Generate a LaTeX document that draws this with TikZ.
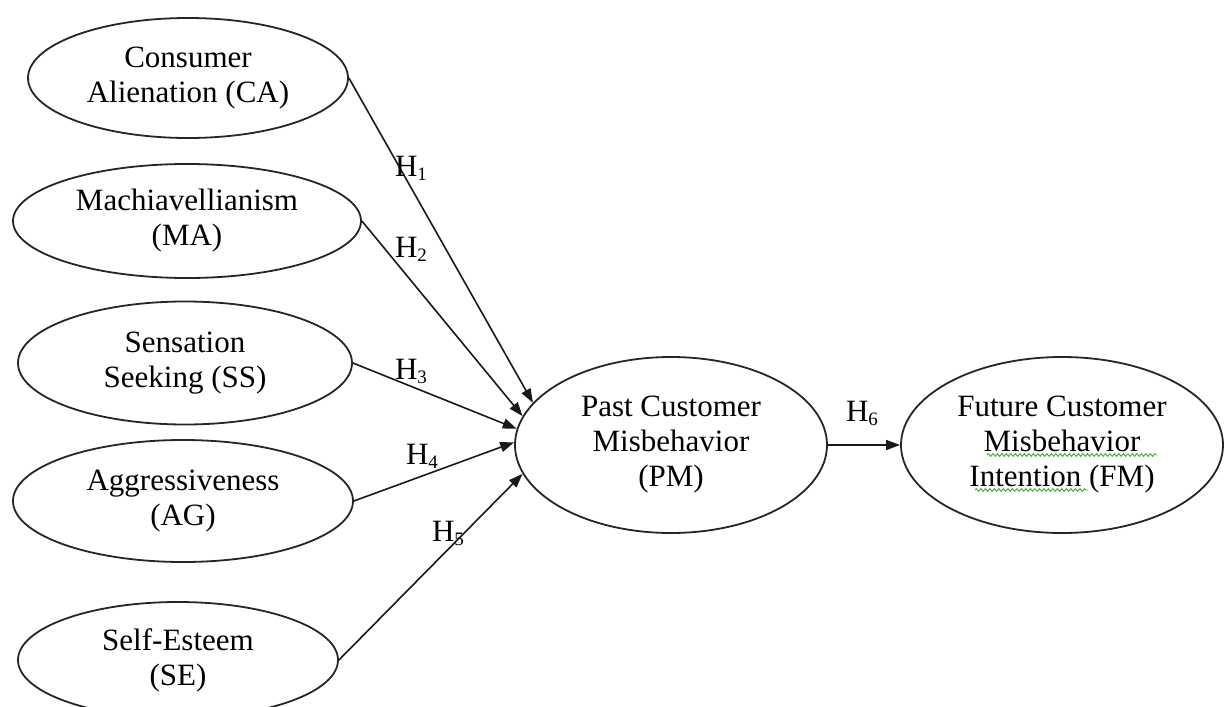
\documentclass[tikz,border=0pt]{standalone}
\usepackage{fontspec}
\setmainfont{Liberation Serif}
\usetikzlibrary{shapes.geometric,arrows.meta,decorations.pathmorphing}
\newcommand{\hsub}[1]{\raisebox{-4pt}{\fontsize{19}{19}\selectfont #1}}
\begin{document}
\begin{tikzpicture}[x=1pt,y=-1pt,
  construct/.style={ellipse,draw=black!85,line width=1.8pt,inner sep=0pt,align=center,
    font=\fontsize{31}{35}\selectfont},
  hlabel/.style={inner sep=0pt,font=\fontsize{31}{35}\selectfont},
  path arrow/.style={draw=black!90,line width=1.6pt,-{Triangle[length=14pt,width=10pt]}},
  spell/.style={draw=green!60!black!80,line width=0.9pt,decorate,
    decoration={snake,amplitude=1.3pt,segment length=4.5pt}}]
\useasboundingbox[fill=white] (0,0) rectangle (1224,707);

\node[construct,minimum width=320pt,minimum height=120pt] (CA) at (188,78) {Consumer\\Alienation (CA)};
\node[construct,minimum width=348pt,minimum height=114pt] (MA) at (187,221) {Machiavellianism\\(MA)};
\node[construct,minimum width=334pt,minimum height=123pt] (SS) at (185,363) {Sensation\\Seeking (SS)};
\node[construct,minimum width=340pt,minimum height=122pt] (AG) at (183,501) {Aggressiveness\\(AG)};
\node[construct,minimum width=320pt,minimum height=116pt] (SE) at (178,660) {Self-Esteem\\(SE)};
\node[construct,minimum width=312pt,minimum height=176pt] (PM) at (671,445) {Past Customer\\Misbehavior\\(PM)};
\node[construct,minimum width=322pt,minimum height=176pt] (FM) at (1062,445) {Future Customer\\Misbehavior\\Intention (FM)};

\draw[path arrow] (CA.east) -- (PM.163);
\draw[path arrow] (MA.east) -- (PM.169);
\draw[path arrow] (SS.east) -- (PM.174);
\draw[path arrow] (AG.east) -- (PM.179);
\draw[path arrow] (SE.east) -- (PM.191);
\draw[path arrow] (PM.east) -- (FM.west);

\node[hlabel] (H1) at (411,168) {H\hsub{1}};
\node[hlabel] (H2) at (411,249) {H\hsub{2}};
\node[hlabel] (H3) at (411,371) {H\hsub{3}};
\node[hlabel] (H4) at (422,456) {H\hsub{4}};
\node[hlabel] (H5) at (448,533) {H\hsub{5}};
\node[hlabel] (H6) at (862,413) {H\hsub{6}};

\coordinate (s1a) at (987,455);
\coordinate (s1b) at (1157,455);
\coordinate (s2a) at (975,490);
\coordinate (s2b) at (1088,490);
\draw[spell] (s1a) -- (s1b);
\draw[spell] (s2a) -- (s2b);
\end{tikzpicture}
\end{document}
